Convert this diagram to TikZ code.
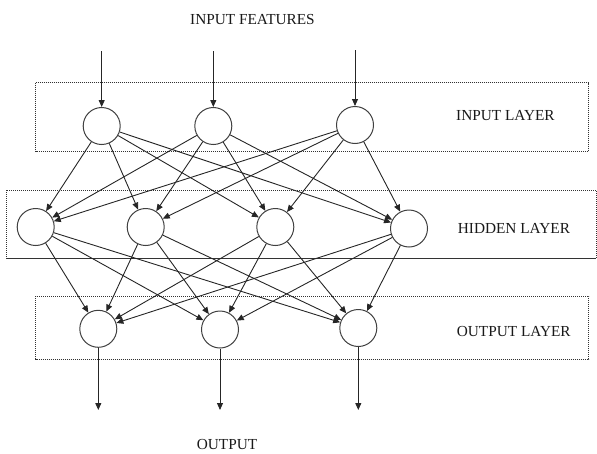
\documentclass[tikz,border=0pt]{standalone}
\usepackage{fontspec}
\setmainfont{Liberation Serif}
\usetikzlibrary{arrows.meta}
\begin{document}
\begin{tikzpicture}[x=1pt,y=-1pt,
  neuron/.style={circle,draw=black!75,line width=1pt,minimum size=37pt,inner sep=0pt},
  layerbox/.style={draw=black!80,line width=0.9pt,dash pattern=on 1.2pt off 0.8pt},
  link/.style={draw=black!85,line width=0.9pt,-{Triangle[length=7pt,width=6pt]}},
  lbl/.style={anchor=base west,inner sep=0pt,font=\fontsize{15.3}{18}\selectfont,text=black!90}]
\useasboundingbox (0,0) rectangle (597,453);

% layer frames
\draw[layerbox] (35.7,82.7) rectangle (588.7,151.5);
\draw[layerbox] (6.7,190) rectangle (596,258.3);
\draw[layerbox] (35.7,296) rectangle (588.7,359);

% neurons
\node[neuron] (i1) at (101.7,126) {};
\node[neuron] (i2) at (213.3,126) {};
\node[neuron] (i3) at (355,125) {};
\node[neuron] (h1) at (35.7,227) {};
\node[neuron] (h2) at (145.7,227) {};
\node[neuron] (h3) at (275.3,227) {};
\node[neuron] (h4) at (409,228.5) {};
\node[neuron] (o1) at (98.3,328.8) {};
\node[neuron] (o2) at (220,329.5) {};
\node[neuron] (o3) at (358.3,328) {};

% free ends of the input and output arrows
\coordinate (f1) at (101.7,51);
\coordinate (f2) at (213.3,51);
\coordinate (f3) at (355,50);
\coordinate (r1) at (98.3,410);
\coordinate (r2) at (220,410);
\coordinate (r3) at (358.3,410);

% labels
\node[lbl] (tin) at (190,24) {INPUT FEATURES};
\node[lbl] (lin) at (456,120) {INPUT LAYER};
\node[lbl] (lhid) at (457.7,233.3) {HIDDEN LAYER};
\node[lbl] (lout) at (456.7,336.7) {OUTPUT LAYER};
\node[lbl] (tout) at (196.7,449.3) {OUTPUT};

% connections
\foreach \k in {1,2,3} {
  \draw[link] (f\k) -- (i\k);
  \draw[link] (o\k) -- (r\k);
}
\foreach \a in {1,2,3} {
  \foreach \b in {1,2,3,4} {
    \draw[link] (i\a) -- (h\b);
  }
}
\foreach \a in {1,2,3,4} {
  \foreach \b in {1,2,3} {
    \draw[link] (h\a) -- (o\b);
  }
}
\end{tikzpicture}
\end{document}
